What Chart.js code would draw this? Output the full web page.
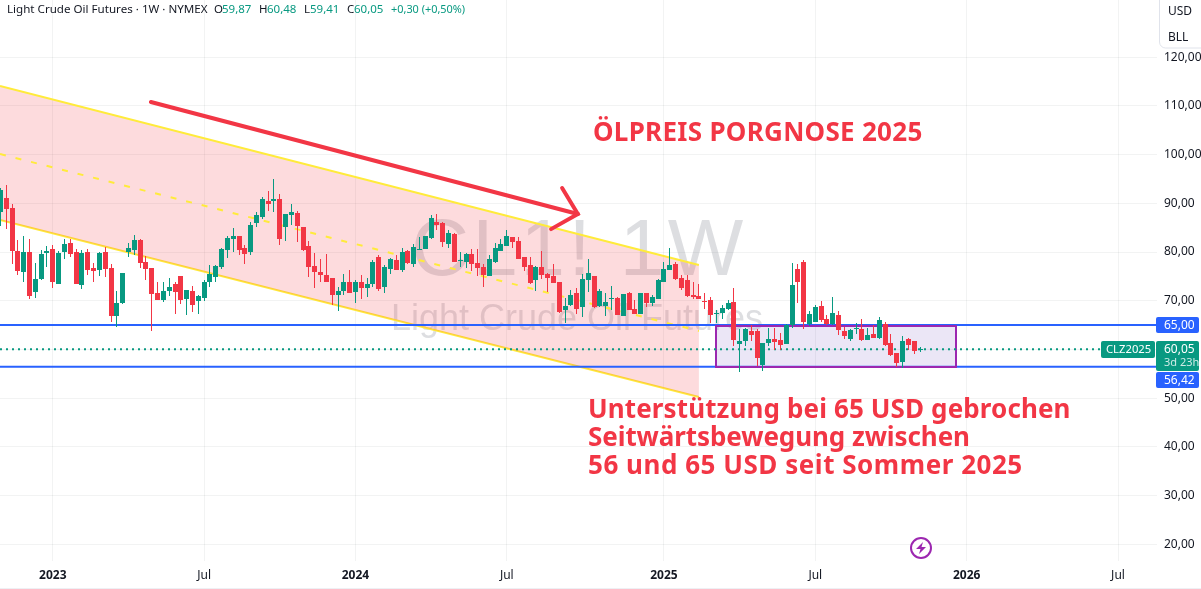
<!DOCTYPE html>
<html><head><meta charset="utf-8">
<style>html,body{margin:0;padding:0;background:#fff}canvas{display:block}</style>
<script src="https://cdn.jsdelivr.net/npm/chart.js@4"></script></head>
<body><canvas id="c" width="1201" height="589"></canvas>
<script>
const opens=[88.30,91.02,89.04,80.27,75.85,80.06,71.70,74.55,79.86,80.68,73.33,80.06,81.90,80.06,73.13,80.06,76.80,76.39,80.06,76.80,66.80,69.45,80.06,80.47,82.51,78.02,76.80,71.49,70.06,71.90,73.33,75.17,70.27,71.90,69.86,70.47,73.74,74.96,77.00,80.47,82.72,83.19,80.88,80.06,85.98,87.21,90.47,90.47,90.88,85.17,87.62,88.02,85.17,81.29,77.21,75.98,75.37,74.76,71.08,71.90,73.74,71.70,73.74,72.51,73.53,79.04,72.72,76.59,78.43,76.39,80.27,77.62,80.47,80.68,82.92,86.19,85.98,81.70,83.74,78.23,78.02,79.66,77.82,77.01,75.17,78.03,80.27,81.29,83.13,82.31,79.05,77.41,74.15,77.01,75.58,75.17,73.74,68.03,69.05,71.50,68.64,74.35,75.17,68.84,68.84,70.27,70.48,66.80,71.50,68.23,67.21,71.50,69.45,70.27,73.94,76.39,77.62,74.76,74.35,71.09,70.88,69.86,70.07,67.21,67.42,68.23,69.66,61.09,61.70,63.75,63.75,56.81,61.30,62.11,61.91,61.09,64.97,76.60,78.03,65.17,65.58,68.85,66.19,65.17,67.01,63.75,62.11,64.15,64.15,61.91,63.13,62.32,65.17,61.30,59.25,57.42,62.11,61.70,59.87];
const highs=[93.06,93.74,89.86,82.51,83.33,82.72,77.82,80.47,81.29,81.49,80.27,82.72,82.72,80.68,80.47,80.68,77.82,80.06,81.08,77.62,71.90,75.78,81.90,83.53,82.72,79.25,76.80,73.94,73.74,74.76,73.74,75.17,72.10,72.92,71.08,74.15,77.41,77.41,80.88,83.33,84.96,83.33,81.49,86.19,88.23,91.29,92.51,94.96,91.90,87.82,89.86,88.43,85.17,82.31,79.86,78.64,79.66,74.76,72.72,75.58,76.39,74.35,75.37,74.76,78.43,79.45,77.41,78.84,79.45,80.88,80.47,81.70,83.13,83.33,87.62,87.82,86.19,84.55,83.94,80.06,79.86,80.68,80.68,77.62,79.45,81.90,82.72,84.56,83.13,83.13,79.05,79.05,77.21,80.27,75.78,77.62,73.74,70.47,72.11,72.52,75.58,78.64,75.17,72.31,71.50,72.92,70.68,71.29,71.70,70.07,71.50,71.50,71.09,74.56,78.03,80.88,78.03,75.37,75.37,73.74,73.33,71.50,70.68,68.03,69.05,70.07,72.52,64.15,64.36,64.97,64.15,61.30,64.36,64.36,63.34,65.17,77.83,77.62,78.44,67.83,69.05,69.87,67.01,70.68,67.83,64.56,64.15,65.38,66.19,64.36,64.97,66.60,65.58,63.13,59.25,62.72,62.32,61.70,60.48];
const lows=[85.37,84.76,77.62,75.37,73.74,70.27,70.47,74.15,77.00,72.51,73.33,78.64,79.04,73.33,72.31,75.37,73.94,75.17,74.96,65.57,64.55,69.25,79.04,79.45,76.80,74.15,63.74,70.06,69.66,70.88,67.21,69.25,67.00,67.62,67.21,69.86,72.72,73.94,76.59,78.84,80.06,79.45,77.62,79.45,85.17,86.80,88.43,88.23,81.49,82.31,85.57,82.10,80.27,74.96,72.51,73.94,73.94,69.04,67.82,71.08,71.49,69.45,70.27,70.68,72.72,71.90,71.49,75.58,76.39,75.98,77.62,77.00,80.47,80.68,82.72,84.55,81.08,80.88,78.02,77.00,76.80,76.19,75.03,72.72,75.17,77.82,80.27,81.29,80.88,78.64,76.19,73.33,71.90,74.56,71.70,73.54,67.41,65.37,68.84,67.21,66.60,71.70,68.43,68.64,66.80,68.03,67.01,66.80,68.03,67.21,67.21,68.64,68.84,70.27,73.94,76.39,74.15,72.11,70.68,70.27,70.27,68.23,65.37,65.37,66.19,68.03,60.68,55.38,60.68,61.70,56.60,55.58,60.68,59.87,59.87,61.09,64.36,69.46,64.15,64.77,65.58,65.58,64.97,64.97,62.93,62.11,61.70,63.13,61.70,61.91,62.32,62.11,60.68,58.64,56.40,56.19,59.87,59.05,59.41];
const closes=[92.72,88.84,80.13,76.19,80.06,70.88,74.55,79.66,80.27,73.74,79.86,81.70,79.66,73.33,79.86,76.39,76.19,79.86,76.59,66.80,69.45,75.78,80.88,82.51,77.82,76.59,71.29,70.06,71.90,72.72,71.70,70.06,72.10,69.04,70.88,73.94,75.58,77.21,80.68,82.92,83.33,80.47,79.66,85.57,87.62,90.88,89.86,90.88,82.72,87.82,88.23,85.37,80.47,77.00,75.98,75.37,73.94,71.08,71.90,73.74,71.49,73.94,72.51,73.33,78.02,72.31,77.00,78.64,76.39,80.06,77.82,81.08,80.68,83.33,87.00,85.57,82.10,83.94,78.02,78.43,79.66,77.62,76.80,75.37,78.64,80.88,81.70,83.33,82.11,78.64,77.01,73.54,77.01,75.37,74.76,73.54,67.62,68.84,71.09,68.23,74.56,75.78,68.64,71.90,69.66,70.48,67.01,71.29,68.03,67.21,71.50,69.45,70.68,74.15,76.60,77.41,74.56,72.52,70.88,70.68,70.27,69.73,67.01,67.41,68.44,69.46,61.91,61.70,64.15,62.93,58.23,61.30,62.11,61.50,60.89,64.97,73.13,73.75,65.58,67.21,68.64,65.99,65.17,67.42,63.95,62.72,63.95,64.36,61.91,62.93,62.32,65.99,60.89,58.85,57.21,61.70,60.89,59.66,60.05];

const tickIndices=[9,35,61,87,114,140,166,192];
const tickLabels=["2023","Jul","2024","Jul","2025","Jul","2026","Jul"];
const yTicks=[20,30,40,50,60,70,80,90,100,110,120];
const xRange=[-0.07,198.7], yRange=[16.55,131.75];

const channelUpper=[[-0.07,114.09],[120,77.33]];
const channelLower=[[-0.07,86.57],[120,50.23]];
const channelMid=[[-0.07,100.12],[120,63.78]];
const arrowShaft=[[25.85,110.8],[99.2,87.8]];
const arrowHead=[[96.5,93.14],[99.2,87.8],[94.6,84.7]];
const levels=[65,56.42];
const lastPrice=60.05;
const rangeBox={x0:122.96,x1:164.1,y0:64.8,y1:56.42};

const UP="#089981",DOWN="#F23645",BLUE="#2962FF",YEL="#FFEB3B",PURPLE="#9C27B0";
const idx=opens.map((_,i)=>i);
const cols=closes.map((c,i)=>c>=opens[i]?UP:DOWN);
const pts=a=>a.map(p=>({x:p[0],y:p[1]}));
const FONT='"Noto Sans"';
const line=(data,color,width,order,extra)=>Object.assign({type:'line',data:pts(data),borderColor:color,borderWidth:width,pointRadius:0,order,fill:false,tension:0,borderCapStyle:'butt'},extra||{});

const snap={id:'snap',afterDatasetsUpdate(ch){
  ch.data.datasets.forEach((d,i)=>{ if(d.type!=='bar')return;
    ch.getDatasetMeta(i).data.forEach(el=>{
      el.x=Math.round(el.x-0.5)+0.5;
      let t=Math.round(Math.min(el.y,el.base)),b=Math.round(Math.max(el.y,el.base));
      if(b-t<1)b=t+1; el.y=t; el.base=b;
    });
  });
}};

const under={id:'under',beforeDatasetsDraw(ch){
  const c=ch.ctx;
  c.save();
  c.fillStyle='rgba(120,123,134,0.25)';c.textAlign='center';c.textBaseline='middle';
  c.letterSpacing='3.5px';
  c.font='80px "Liberation Sans"';c.fillText('CL1! 1W',579,253);
  c.letterSpacing='0px';
  c.font='36px "Liberation Sans"';c.fillText('Light Crude Oil Futures',577,320);
  c.restore();
}};

const over={id:'over',afterDraw(ch){
  const c=ch.ctx;
  c.save();
  c.fillStyle='#EEF0F4';c.fillRect(0,588,1201,1);
  c.fillStyle='#fff';c.strokeStyle='#E0E3EB';c.lineWidth=1;
  c.beginPath();c.roundRect(1159.5,-6,48,54,6);c.fill();c.stroke();
  c.fillStyle='#131722';c.font='12px '+FONT;c.textBaseline='middle';c.textAlign='left';
  c.fillText('USD',1168,12);c.fillText('BLL',1168,38);
  const tag=(xx,yy,w,h,col,r)=>{c.fillStyle=col;c.beginPath();c.roundRect(xx,yy,w,h,r);c.fill();};
  tag(1156,317,43,16,BLUE,2);
  tag(1156,372,43,16,BLUE,2);
  tag(1156,341,43,30,UP,2);
  tag(1101,341,54,17,UP,2);
  c.fillStyle='#fff';
  c.fillText('65,00',1164,325.5);c.fillText('56,42',1164,380.5);
  c.fillText('60,05',1164,349.5);
  c.font='11px '+FONT;
  c.fillStyle='rgba(255,255,255,0.8)';c.fillText('3d 23h',1164,362.5);
  c.font='11.25px '+FONT;
  c.fillStyle='#fff';c.fillText('CLZ2025',1106,349.5);
  const seg=(t,col,x)=>{c.fillStyle=col;c.fillText(t,x,9.5);};
  c.font='11.6px '+FONT;
  seg('Light Crude Oil Futures · 1W · NYMEX','#131722',7);
  c.font='11.5px '+FONT;
  seg('O','#131722',214);seg('59,87',UP,222);
  seg('H','#131722',259);seg('60,48',UP,267);
  seg('L','#131722',304);seg('59,41',UP,310);
  seg('C','#131722',347);seg('60,05',UP,354);
  c.font='10.9px '+FONT;
  seg('+0,30 (+0,50%)',UP,391);
  c.fillStyle=DOWN;c.font='bold 26px '+FONT;c.textBaseline='alphabetic';
  c.letterSpacing='0.29px';c.fillText('ÖLPREIS PORGNOSE 2025',593,141);
  c.letterSpacing='0.12px';c.fillText('Unterstützung bei 65 USD gebrochen',588,418);
  c.letterSpacing='-0.08px';c.fillText('Seitwärtsbewegung zwischen',588,446);
  c.letterSpacing='0.53px';c.fillText('56 und 65 USD seit Sommer 2025',588,474);
  c.letterSpacing='0px';
  c.strokeStyle=PURPLE;c.lineWidth=2;c.beginPath();c.arc(921,548,10,0,Math.PI*2);c.fillStyle='#fff';c.fill();c.stroke();
  c.fillStyle=PURPLE;c.beginPath();c.moveTo(923,542);c.lineTo(916,549);c.lineTo(920.5,549);c.lineTo(919,554);c.lineTo(926,547);c.lineTo(921.5,547);c.closePath();c.fill();
  c.restore();
}};

const box={id:'box',beforeDatasetDraw(ch,args){
  if(args.index!==boxIdx)return;
  const c=ch.ctx,x=ch.scales.x,y=ch.scales.y;
  const l=Math.round(x.getPixelForValue(rangeBox.x0)),r=Math.round(x.getPixelForValue(rangeBox.x1)),t=Math.round(y.getPixelForValue(rangeBox.y0)),b=Math.round(y.getPixelForValue(rangeBox.y1));
  c.save();c.fillStyle='rgba(103,58,183,0.13)';c.fillRect(l,t,r-l,b-t);
  c.strokeStyle=PURPLE;c.lineWidth=2;c.strokeRect(l,t,r-l,b-t);c.restore();
}};

const datasets=[
 line(channelUpper,YEL,2,40,{fill:{target:1},backgroundColor:'rgba(242,54,69,0.18)'}),
 line(channelLower,YEL,2,41),
 line(channelMid,YEL,2,39,{borderDash:[6,10]}),
 line([[xRange[0],levels[0]],[xRange[1],levels[0]]],BLUE,2,30),
 line([[xRange[0],levels[1]],[xRange[1],levels[1]]],BLUE,2,30),
 line([[xRange[0],lastPrice],[(1101-0.4)/5.82,lastPrice]],UP,2,29,{borderDash:[2,4]}),
 {type:'bar',data:idx.map(i=>({x:i,y:[lows[i],highs[i]]})),backgroundColor:cols,barThickness:1,grouped:false,order:11,borderWidth:0,inflateAmount:0},
 {type:'bar',data:idx.map(i=>({x:i,y:[opens[i],closes[i]]})),backgroundColor:cols,barThickness:5,grouped:false,order:10,borderWidth:0,inflateAmount:0},
 line(arrowShaft,DOWN,4,1,{borderCapStyle:'round'}),
 line(arrowHead,DOWN,4,0,{borderCapStyle:'round',borderJoinStyle:'miter'})
];
const boxIdx=5;
const noPad=s=>{s.paddingTop=0;s.paddingBottom=0;s.paddingLeft=0;s.paddingRight=0;};

new Chart(document.getElementById('c'),{
 data:{datasets},
 plugins:[snap,under,box,over],
 options:{responsive:false,animation:false,devicePixelRatio:1,layout:{padding:0},
  plugins:{legend:{display:false},tooltip:{enabled:false}},
  scales:{
   x:{type:'linear',min:xRange[0],max:xRange[1],offset:false,
      afterBuildTicks(s){s.ticks=tickIndices.map(v=>({value:v}));},
      afterFit(s){s.height=28;noPad(s);},
      grid:{offset:false,color:'rgba(42,46,57,0.06)',drawTicks:false},border:{display:false},
      ticks:{autoSkip:false,maxRotation:0,padding:7,color:'#131722',
        callback:(v)=>tickLabels[tickIndices.indexOf(v)],
        font:c=>({family:FONT,size:12,weight:/^\d/.test(tickLabels[c.index]||'')?'bold':'normal'})}},
   y:{type:'linear',position:'right',min:yRange[0],max:yRange[1],
      afterBuildTicks(s){s.ticks=yTicks.map(v=>({value:v}));},
      afterFit(s){s.width=44;noPad(s);},
      grid:{color:'rgba(42,46,57,0.06)',drawTicks:false},border:{display:false},
      ticks:{padding:7,color:'#131722',autoSkip:false,callback:v=>v.toFixed(2).replace('.',','),font:{family:FONT,size:12}}}
  }}
});
</script></body></html>
